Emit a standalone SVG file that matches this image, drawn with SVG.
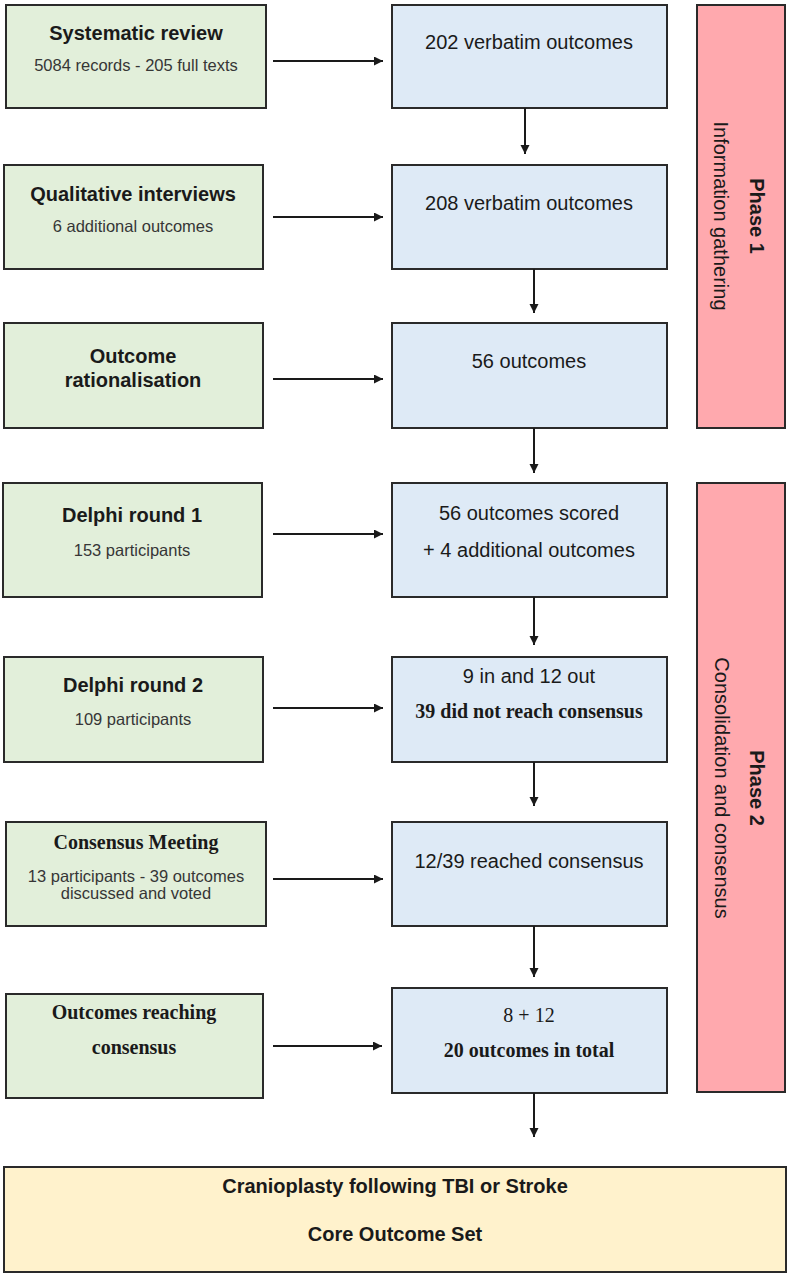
<svg xmlns="http://www.w3.org/2000/svg" width="790" height="1275" viewBox="0 0 790 1275">
<style>
  .box { stroke: #2a2a2a; stroke-width: 2; }
  .green { fill: #e2efda; }
  .blue { fill: #deeaf6; }
  .pink { fill: #ffa9ae; }
  .yellow { fill: #fff2cc; }
  text { text-anchor: middle; fill: #1a1a1a; }
  .ab { font-family: "Liberation Sans", Arial, sans-serif; font-weight: bold; font-size: 20px; }
  .ar { font-family: "Liberation Sans", Arial, sans-serif; font-size: 20px; }
  .as { font-family: "Liberation Sans", Arial, sans-serif; font-size: 16.5px; fill: #363636; }
  .tb { font-family: "Liberation Serif", "Times New Roman", serif; font-weight: bold; font-size: 20px; }
  .tr { font-family: "Liberation Serif", "Times New Roman", serif; font-size: 20px; }
  .conn line { stroke: #1a1a1a; stroke-width: 2; marker-end: url(#arr); }
</style>
<defs>
  <marker id="arr" markerUnits="userSpaceOnUse" markerWidth="10" markerHeight="10" refX="9" refY="4.5" orient="auto">
    <path d="M0,0 L9,4.5 L0,9 z" fill="#1a1a1a"/>
  </marker>
</defs>
<rect width="790" height="1275" fill="#ffffff"/>

<g id="systematic-review">
  <rect class="box green" x="6" y="5" width="260" height="103"/>
  <text class="ab" x="136" y="40">Systematic review</text>
  <text class="as" x="136" y="71">5084 records - 205 full texts</text>
</g>
<g id="qualitative-interviews">
  <rect class="box green" x="4" y="165" width="259" height="104"/>
  <text class="ab" x="133" y="201">Qualitative interviews</text>
  <text class="as" x="133" y="232">6 additional outcomes</text>
</g>
<g id="outcome-rationalisation">
  <rect class="box green" x="4" y="323" width="259" height="105"/>
  <text class="ab" x="133" y="363">Outcome</text>
  <text class="ab" x="133" y="387">rationalisation</text>
</g>
<g id="delphi-round-1">
  <rect class="box green" x="3" y="483" width="259" height="114"/>
  <text class="ab" x="132" y="522">Delphi round 1</text>
  <text class="as" x="132" y="556">153 participants</text>
</g>
<g id="delphi-round-2">
  <rect class="box green" x="4" y="657" width="259" height="105"/>
  <text class="ab" x="133" y="692">Delphi round 2</text>
  <text class="as" x="133" y="725">109 participants</text>
</g>
<g id="consensus-meeting">
  <rect class="box green" x="6" y="822" width="260" height="104"/>
  <text class="tb" x="136" y="849">Consensus Meeting</text>
  <text class="as" x="136" y="882">13 participants - 39 outcomes</text>
  <text class="as" x="136" y="899">discussed and voted</text>
</g>
<g id="outcomes-reaching-consensus">
  <rect class="box green" x="6" y="994" width="257" height="104"/>
  <text class="tb" x="134" y="1019">Outcomes reaching</text>
  <text class="tb" x="134" y="1054">consensus</text>
</g>

<g id="verbatim-202">
  <rect class="box blue" x="392" y="5" width="275" height="103"/>
  <text class="ar" x="529" y="49">202 verbatim outcomes</text>
</g>
<g id="verbatim-208">
  <rect class="box blue" x="392" y="165" width="275" height="104"/>
  <text class="ar" x="529" y="210">208 verbatim outcomes</text>
</g>
<g id="outcomes-56">
  <rect class="box blue" x="392" y="323" width="275" height="105"/>
  <text class="ar" x="529" y="368">56 outcomes</text>
</g>
<g id="outcomes-scored">
  <rect class="box blue" x="392" y="483" width="275" height="114"/>
  <text class="ar" x="529" y="520">56 outcomes scored</text>
  <text class="ar" x="529" y="557">+ 4 additional outcomes</text>
</g>
<g id="in-out">
  <rect class="box blue" x="392" y="657" width="275" height="105"/>
  <text class="ar" x="529" y="683">9 in and 12 out</text>
  <text class="tb" x="529" y="718">39 did not reach consensus</text>
</g>
<g id="reached-consensus">
  <rect class="box blue" x="392" y="822" width="275" height="104"/>
  <text class="ar" x="529" y="868">12/39 reached consensus</text>
</g>
<g id="total-20">
  <rect class="box blue" x="392" y="988" width="275" height="105"/>
  <text class="tr" x="529" y="1022">8 + 12</text>
  <text class="tb" x="529" y="1057">20 outcomes in total</text>
</g>

<g id="phase-1">
  <rect class="box pink" x="697" y="5" width="88" height="423"/>
  <text class="ab" transform="translate(750,216) rotate(90)">Phase 1</text>
  <text class="ar" transform="translate(714,216) rotate(90)">Information gathering</text>
</g>
<g id="phase-2">
  <rect class="box pink" x="697" y="483" width="88" height="609"/>
  <text class="ab" transform="translate(750,788) rotate(90)">Phase 2</text>
  <text class="ar" transform="translate(715,788) rotate(90)">Consolidation and consensus</text>
</g>

<g id="core-outcome-set">
  <rect class="box yellow" x="4" y="1167" width="782" height="105"/>
  <text class="ab" x="395" y="1193">Cranioplasty following TBI or Stroke</text>
  <text class="ab" x="395" y="1241">Core Outcome Set</text>
</g>

<g id="connectors" class="conn">
  <line x1="273" y1="61" x2="383" y2="61"/>
  <line x1="273" y1="217" x2="383" y2="217"/>
  <line x1="273" y1="379" x2="383" y2="379"/>
  <line x1="273" y1="534" x2="383" y2="534"/>
  <line x1="273" y1="708" x2="383" y2="708"/>
  <line x1="273" y1="879" x2="383" y2="879"/>
  <line x1="273" y1="1046" x2="382" y2="1046"/>
  <line x1="525" y1="108" x2="525" y2="154"/>
  <line x1="534" y1="269" x2="534" y2="313"/>
  <line x1="534" y1="428" x2="534" y2="473"/>
  <line x1="534" y1="597" x2="534" y2="645"/>
  <line x1="534" y1="762" x2="534" y2="806"/>
  <line x1="534" y1="926" x2="534" y2="977"/>
  <line x1="534" y1="1093" x2="534" y2="1137"/>
</g>
</svg>
